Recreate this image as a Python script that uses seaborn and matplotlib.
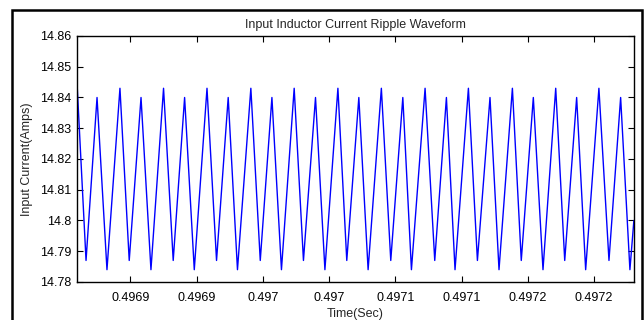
import numpy as np
import pandas as pd
from matplotlib import pyplot as plt
from matplotlib.patches import Rectangle
import seaborn as sns

# vertici della forma d'onda (picchi e valli)
time_sec = [
    0.4968100, 0.4968166, 0.4968249, 0.4968324, 0.4968422, 0.4968492,
    0.4968581, 0.4968656, 0.4968751, 0.4968824, 0.4968910, 0.4968983,
    0.4969079, 0.4969151, 0.4969239, 0.4969309, 0.4969410, 0.4969481,
    0.4969569, 0.4969641, 0.4969737, 0.4969807, 0.4969898, 0.4969969,
    0.4970067, 0.4970134, 0.4970225, 0.4970295, 0.4970395, 0.4970466,
    0.4970557, 0.4970622, 0.4970725, 0.4970798, 0.4970886, 0.4970951,
    0.4971052, 0.4971120, 0.4971215, 0.4971283, 0.4971384, 0.4971451,
    0.4971542, 0.4971615, 0.4971711, 0.4971779, 0.4971869, 0.4971937,
    0.4972037, 0.4972113, 0.4972201, 0.4972271, 0.4972301,
]
current_amps = [
    14.843, 14.787, 14.840, 14.784, 14.843, 14.787,
    14.840, 14.784, 14.843, 14.787, 14.840, 14.784,
    14.843, 14.787, 14.840, 14.784, 14.843, 14.787,
    14.840, 14.784, 14.843, 14.787, 14.840, 14.784,
    14.843, 14.787, 14.840, 14.784, 14.843, 14.787,
    14.840, 14.784, 14.843, 14.787, 14.840, 14.784,
    14.843, 14.787, 14.840, 14.784, 14.843, 14.787,
    14.840, 14.784, 14.843, 14.787, 14.840, 14.784,
    14.843, 14.787, 14.840, 14.784, 14.800,
]

x_ticks = [0.49685, 0.4969, 0.49695, 0.4970, 0.49705, 0.4971, 0.49715, 0.4972]
x_tick_labels = ['0.4969', '0.4969', '0.497', '0.497', '0.4971', '0.4971', '0.4972', '0.4972']
y_ticks = [14.78, 14.79, 14.80, 14.81, 14.82, 14.83, 14.84, 14.85, 14.86]
y_tick_labels = ['14.78', '14.79', '14.8', '14.81', '14.82', '14.83', '14.84', '14.85', '14.86']

df = pd.DataFrame({'Time': time_sec, 'Current': current_amps})

sns.set_theme(style='white')
plt.rcParams['font.family'] = ['Liberation Sans', 'DejaVu Sans']

fig = plt.figure(figsize=(6.44, 3.20), dpi=100)
ax = fig.add_axes([0.1196, 0.1188, 0.8649, 0.7687])

sns.lineplot(data=df, x='Time', y='Current', ax=ax, color='#0000ff',
             linewidth=1.0, sort=False)

ax.set_xlim(0.4968098, 0.4972302)
ax.set_ylim(14.78, 14.86)
ax.set_xticks(x_ticks)
ax.set_xticklabels(x_tick_labels)
ax.set_yticks(y_ticks)
ax.set_yticklabels(y_tick_labels)

ax.tick_params(direction='in', length=4, width=0.8, colors='black',
               labelsize=9, top=True, right=True, bottom=True, left=True, pad=4)
ax.tick_params(axis='x', pad=7)
for s in ax.spines.values():
    s.set_color('black')
    s.set_linewidth(1.0)

ax.set_xlabel('Time(Sec)', fontsize=9, labelpad=3)
ax.set_ylabel('Input Current(Amps)', fontsize=9, labelpad=5)
ax.set_title('Input Inductor Current Ripple Waveform', fontsize=9, pad=6)

# cornice esterna della figura
frame = Rectangle((0.0186, -0.1), 0.978, 1.069, transform=fig.transFigure,
                  fill=False, edgecolor='black', linewidth=1.8, clip_on=False)
fig.patches.append(frame)

plt.savefig('out.png', dpi=100)
plt.close()
